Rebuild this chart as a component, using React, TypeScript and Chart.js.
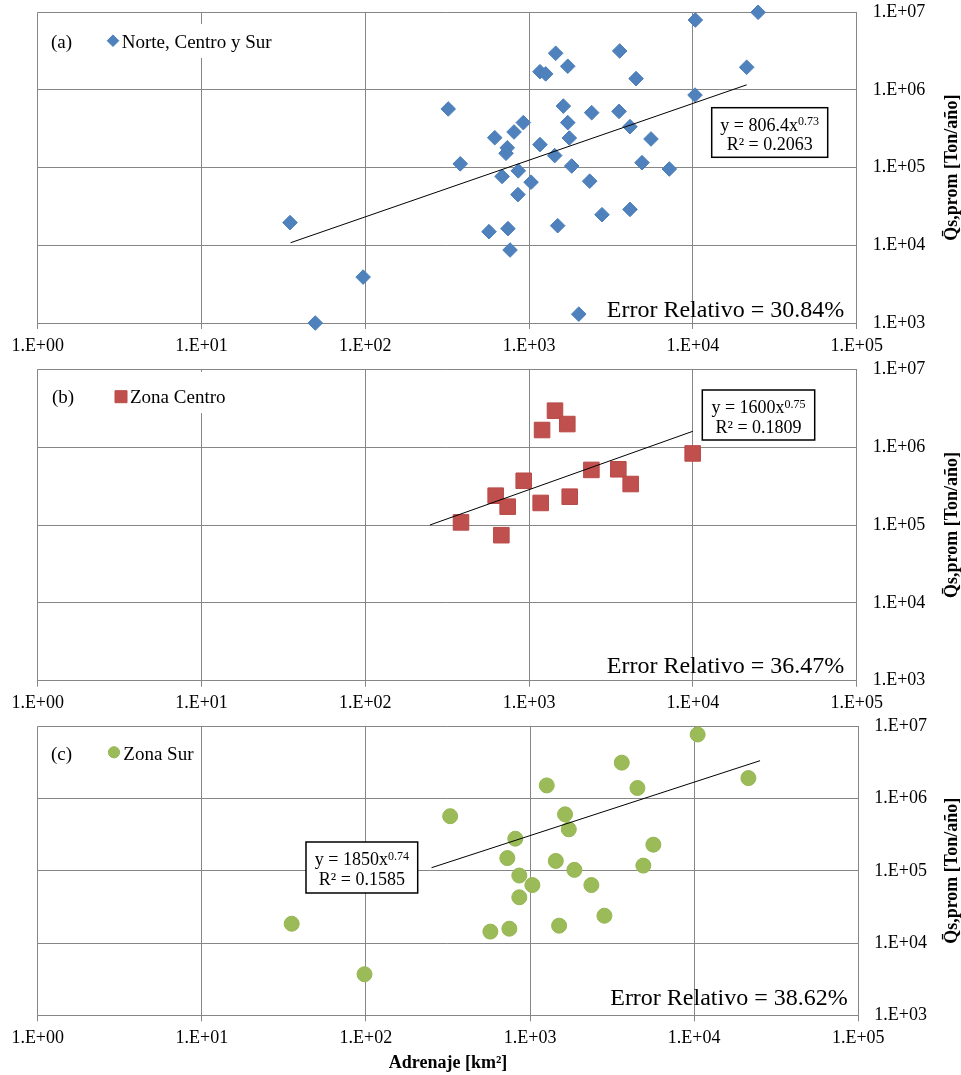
import React, { useEffect, useRef } from 'react';
import { Chart, registerables } from 'chart.js';

Chart.register(...registerables);

const FONT = "'Liberation Serif', 'Times New Roman', serif";

// ---- axis ticks ----
const xTickValues = [1, 10, 100, 1000, 10000, 100000];
const xTickLabels = ['1.E+00', '1.E+01', '1.E+02', '1.E+03', '1.E+04', '1.E+05'];
const yTickValues = [1e3, 1e4, 1e5, 1e6, 1e7];
const yTickLabels = ['1.E+03', '1.E+04', '1.E+05', '1.E+06', '1.E+07'];

// ---- series names ----
const seriesLabels = ['Norte, Centro y Sur', 'Zona Centro', 'Zona Sur'];
const panelLetters = ['(a)', '(b)', '(c)'];
const yTitle = 'Q\u0304s,prom [Ton/año]';
const xTitle = 'Adrenaje [km²]';

// ---- (a) Norte, Centro y Sur ----
const todosArea = [34.7, 97, 49.5, 321, 380, 10350, 25000, 1453, 3573, 1165, 1263, 1722, 4497, 21300, 10300, 1618, 2410, 3540, 1722, 4130, 922, 809, 617, 1760, 5548, 736, 723, 1165, 1433, 4890, 7180, 1820, 859, 684, 1028, 2344, 855, 2786, 4130, 1495, 569, 743, 765, 2010];
const todosQs = [1.96e4, 3.9e3, 1.0e3, 5.7e5, 1.12e5, 7.95e6, 1.0e7, 2.97e6, 3.18e6, 1.72e6, 1.61e6, 2.02e6, 1.40e6, 1.96e6, 8.6e5, 6.2e5, 5.1e5, 5.3e5, 3.8e5, 3.37e5, 3.8e5, 2.88e5, 2.43e5, 2.41e5, 2.34e5, 1.80e5, 1.53e5, 1.98e5, 1.43e5, 1.16e5, 9.6e4, 1.05e5, 9.1e4, 7.7e4, 6.5e4, 6.7e4, 4.5e4, 2.48e4, 2.9e4, 1.79e4, 1.50e4, 1.64e4, 8.7e3, 1.3e3];

// ---- (b) Zona Centro ----
const centroArea = [384, 1439, 1711, 1200, 9970, 2400, 3505, 4170, 927, 625, 740, 1177, 1770, 677];
const centroQs = [1.08e5, 2.94e6, 1.98e6, 1.66e6, 8.3e5, 5.1e5, 5.2e5, 3.36e5, 3.7e5, 2.38e5, 1.72e5, 1.92e5, 2.31e5, 7.4e4];

// ---- (c) Zona Sur ----
const surArea = [326, 35.3, 98, 10500, 3620, 1264, 4510, 21400, 1634, 1722, 813, 5640, 727, 1435, 4900, 1862, 860, 1033, 2364, 860, 2838, 1503, 573, 748];
const surQs = [5.7e5, 1.85e4, 3.7e3, 7.7e6, 3.14e6, 1.52e6, 1.40e6, 1.92e6, 6.05e5, 3.75e5, 2.78e5, 2.30e5, 1.50e5, 1.37e5, 1.18e5, 1.03e5, 8.6e4, 6.35e4, 6.35e4, 4.3e4, 2.39e4, 1.74e4, 1.44e4, 1.58e4];

// ---- power trendlines y = a x^b ----
const trendCoef = [806.4, 1600, 1850];
const trendExp = [0.73, 0.75, 0.74];
const trendStart = [35, 248, 251];
const trendEnd = [21300, 10000, 25200];
const coefLabels = ['806.4', '1600', '1850'];
const expLabels = ['0.73', '0.75', '0.74'];
const rSquared = ['0.2063', '0.1809', '0.1585'];
const errorRelativo = ['30.84%', '36.47%', '38.62%'];

const areas = [todosArea, centroArea, surArea];
const qs = [todosQs, centroQs, surQs];

const pointStyles = ['rectRot', 'rect', 'circle'];
const fillColors = ['#4F81BD', '#C0504D', '#9BBB59'];
const edgeColors = ['#4A7EBB', '#B94A47', '#95B653'];
const radii = [7.3, 11, 7.5];

const layouts = [
  { top: 0, height: 356, chartTop: 12.3, chartBottom: 323, chartRight: 856.7, box: [711.7, 107.7, 116, 49.6], errRight: 844.3, errBase: 316.7, letterX: 51, legendBase: 48.3, markerX: 113, markerY: 40.7, textX: 121.7, bg: [103, 24, 179, 34], showXTitle: false },
  { top: 356, height: 356, chartTop: 13.3, chartBottom: 324.7, chartRight: 856.7, box: [702.3, 34, 112.4, 50], errRight: 844.3, errBase: 316.7, letterX: 52, legendBase: 47.3, markerX: 121, markerY: 40.7, textX: 130, bg: [112, 16, 120, 41], showXTitle: false },
  { top: 712, height: 363, chartTop: 14.3, chartBottom: 303.3, chartRight: 858.3, box: [306, 130, 111.7, 51], errRight: 847.7, errBase: 293, letterX: 51, legendBase: 48, markerX: 114, markerY: 40.3, textX: 123.3, bg: [104, 24, 92, 34], showXTitle: true },
];

function drawLegendMarker(ctx: CanvasRenderingContext2D, idx: number, x: number, y: number) {
  ctx.save();
  ctx.fillStyle = fillColors[idx];
  ctx.strokeStyle = edgeColors[idx];
  ctx.lineWidth = 1;
  ctx.beginPath();
  if (idx === 0) {
    const r = 5.8;
    ctx.moveTo(x, y - r);
    ctx.lineTo(x + r, y);
    ctx.lineTo(x, y + r);
    ctx.lineTo(x - r, y);
    ctx.closePath();
  } else if (idx === 1) {
    ctx.rect(x - 6, y - 6, 12, 12);
  } else {
    ctx.arc(x, y, 5.6, 0, Math.PI * 2);
  }
  ctx.fill();
  ctx.stroke();
  ctx.restore();
}

function makeAnnotations(idx: number) {
  return {
    id: 'annot' + idx,
    afterDraw(chart: any) {
      const L = layouts[idx];
      const ctx: CanvasRenderingContext2D = chart.ctx;
      const ca = chart.chartArea;
      ctx.save();
      // legend background
      ctx.fillStyle = '#fff';
      ctx.fillRect(L.bg[0], L.bg[1], L.bg[2], L.bg[3]);
      ctx.fillStyle = '#000';
      ctx.textAlign = 'left';
      ctx.textBaseline = 'alphabetic';
      ctx.font = `19px ${FONT}`;
      ctx.fillText(panelLetters[idx], L.letterX, L.legendBase);
      drawLegendMarker(ctx, idx, L.markerX, L.markerY);
      ctx.fillStyle = '#000';
      ctx.font = `19px ${FONT}`;
      ctx.fillText(seriesLabels[idx], L.textX, L.legendBase);

      // equation box
      const [bx, by, bw, bh] = L.box;
      ctx.fillStyle = '#fff';
      ctx.fillRect(bx, by, bw, bh);
      ctx.strokeStyle = '#000';
      ctx.lineWidth = 1.5;
      ctx.strokeRect(bx, by, bw, bh);
      const main = 'y = ' + coefLabels[idx] + 'x';
      const sup = expLabels[idx];
      ctx.font = `18px ${FONT}`;
      const mw = ctx.measureText(main).width;
      ctx.font = `12px ${FONT}`;
      const sw = ctx.measureText(sup).width;
      const cx = bx + bw / 2;
      const x0 = cx - (mw + sw) / 2;
      ctx.fillStyle = '#000';
      ctx.textAlign = 'left';
      ctx.font = `18px ${FONT}`;
      ctx.fillText(main, x0, by + 23);
      ctx.font = `12px ${FONT}`;
      ctx.fillText(sup, x0 + mw, by + 17.5);
      ctx.font = `18px ${FONT}`;
      ctx.textAlign = 'center';
      ctx.fillText('R² = ' + rSquared[idx], cx, by + 42.5);

      // relative error
      ctx.font = `24px ${FONT}`;
      ctx.textAlign = 'right';
      ctx.fillText('Error Relativo = ' + errorRelativo[idx], L.errRight, L.errBase);

      // y title (reads bottom to top, on the right)
      ctx.save();
      ctx.translate(957, (ca.top + ca.bottom) / 2);
      ctx.rotate(-Math.PI / 2);
      ctx.font = `bold 18px ${FONT}`;
      ctx.textAlign = 'center';
      ctx.textBaseline = 'alphabetic';
      ctx.fillText(yTitle, 0, 0);
      ctx.restore();

      if (L.showXTitle) {
        ctx.font = `bold 18px ${FONT}`;
        ctx.textAlign = 'center';
        ctx.textBaseline = 'alphabetic';
        ctx.fillText(xTitle, (ca.left + ca.right) / 2, 355.7);
      }
      ctx.restore();
    },
  };
}

function Panel({ idx }: { idx: number }) {
  const ref = useRef<HTMLCanvasElement>(null);
  const L = layouts[idx];
  useEffect(() => {
    if (!ref.current) return;
    const pts = areas[idx].map((x, i) => ({ x, y: qs[idx][i] }));
    const trendPts = [trendStart[idx], trendEnd[idx]].map((x) => ({ x, y: trendCoef[idx] * Math.pow(x, trendExp[idx]) }));
    const gridColor = '#868686';
    const chart = new Chart(ref.current, {
      type: 'scatter',
      data: {
        datasets: [
          {
            type: 'line',
            label: 'Tendencia',
            data: trendPts,
            borderColor: '#000',
            borderWidth: 1,
            pointRadius: 0,
            fill: false,
            tension: 0,
            order: 0,
          } as any,
          {
            label: seriesLabels[idx],
            data: pts,
            pointStyle: pointStyles[idx] as any,
            pointRadius: radii[idx],
            pointHoverRadius: radii[idx],
            backgroundColor: fillColors[idx],
            borderColor: edgeColors[idx],
            borderWidth: 1,
            showLine: false,
            clip: false as any,
            order: 1,
          },
        ],
      },
      options: {
        animation: false,
        responsive: false,
        maintainAspectRatio: false,
        events: [],
        layout: { padding: { left: 37.7, top: L.chartTop, right: 0, bottom: 0 } },
        plugins: { legend: { display: false }, tooltip: { enabled: false } },
        scales: {
          x: {
            type: 'logarithmic',
            position: 'bottom',
            min: 1,
            max: 100000,
            afterBuildTicks: (s: any) => {
              s.ticks = xTickValues.map((value) => ({ value }));
            },
            afterFit: (s: any) => {
              s.height = L.height - L.chartBottom;
            },
            grid: { color: gridColor, lineWidth: 1, drawTicks: true, tickLength: 6, tickColor: gridColor },
            border: { color: gridColor, width: 1 },
            ticks: {
              autoSkip: false,
              maxRotation: 0,
              padding: 6,
              color: '#000',
              font: { family: FONT, size: 18 },
              callback: (_v: any, i: number) => xTickLabels[i],
            },
          },
          y: {
            type: 'logarithmic',
            position: 'right',
            min: 1000,
            max: 10000000,
            afterBuildTicks: (s: any) => {
              s.ticks = yTickValues.map((value) => ({ value }));
            },
            afterFit: (s: any) => {
              s.width = 961 - L.chartRight;
            },
            grid: { color: gridColor, lineWidth: 1, drawTicks: true, tickLength: 16, tickColor: 'rgba(0,0,0,0)' },
            border: { color: gridColor, width: 1 },
            ticks: {
              autoSkip: false,
              padding: 0,
              color: '#000',
              font: { family: FONT, size: 18 },
              callback: (_v: any, i: number) => yTickLabels[i],
            },
          },
        },
      },
      plugins: [makeAnnotations(idx)],
    } as any);
    return () => chart.destroy();
  }, [idx]);
  return (
    <canvas
      ref={ref}
      width={961}
      height={L.height}
      style={{ position: 'absolute', left: 0, top: L.top, width: 961, height: L.height, display: 'block' }}
    />
  );
}

export default function App() {
  return (
    <div style={{ position: 'absolute', left: 0, top: 0, width: 961, height: 1075, background: '#fff', overflow: 'hidden' }}>
      <Panel idx={0} />
      <Panel idx={1} />
      <Panel idx={2} />
    </div>
  );
}
